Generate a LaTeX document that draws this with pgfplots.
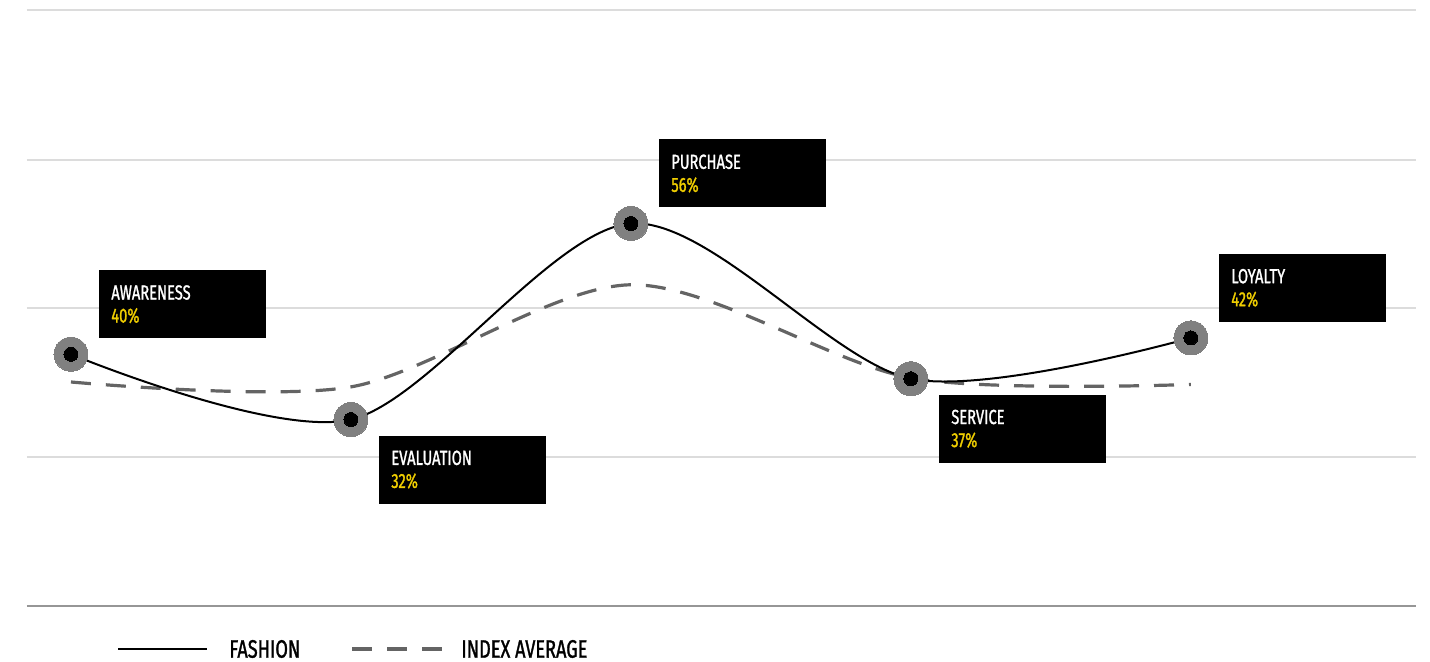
\documentclass[border=0pt]{standalone}
\usepackage{fontspec}
\setmainfont{Fira Sans}[FakeStretch=0.72, FakeBold=1.2]
\usepackage{pgfplots}
\usepackage{pgfplotstable}
\pgfplotsset{compat=1.18}

\definecolor{gridgray}{RGB}{220,220,220}
\definecolor{basegray}{RGB}{150,150,150}
\definecolor{ringgray}{RGB}{128,128,128}
\definecolor{dashgray}{RGB}{100,100,100}
\definecolor{labelyellow}{RGB}{240,206,0}

% stage, share of respondents, label placement (1 = above, -1 = below)
\pgfplotstableread{
x y name pos
0 40 AWARENESS 1
1 32 EVALUATION -1
2 56 PURCHASE 1
3 37 SERVICE -1
4 42 LOYALTY 1
}\fashion

\pgfplotstableread{
x y
0 36.6
1 36.0
2 48.5
3 37.1
4 36.3
}\indexavg

\begin{document}
\begin{tikzpicture}
\path[use as bounding box] (0,0) rectangle (715pt,330.5pt);
\begin{axis}[
  at={(13.5pt,27.5pt)}, anchor=south west,
  scale only axis, width=694.5pt, height=298pt,
  xmin=-0.157, xmax=4.804, ymin=9.18, ymax=82.13,
  xtick=\empty, ytick={27.42,45.65,63.77,82.13}, yticklabels={},
  extra y ticks={9.18}, extra y tick labels={},
  extra y tick style={grid style={color=basegray, line width=0.8pt}},
  major tick length=0pt,
  ymajorgrids, grid style={color=gridgray, line width=0.7pt},
  axis line style={draw=none},
  clip=false,
]
% index average
\addplot[dashgray, line width=1.6pt, dash pattern=on 10pt off 7.5pt, smooth, tension=0.5, mark=none] table[x=x,y=y] {\indexavg};
% rings behind the fashion line
\addplot[ringgray, only marks, mark=*, mark size=8.5pt, mark options={fill=ringgray, draw=ringgray, line width=0pt}] table[x=x,y=y] {\fashion};
% fashion
\addplot[black, line width=1pt, smooth, tension=0.5, mark=none] table[x=x,y=y] {\fashion};
\addplot[black, only marks, mark=*, mark size=3.5pt, mark options={fill=black, draw=black, line width=0pt}] table[x=x,y=y] {\fashion};
% stage labels
\addplot[draw=none, mark=none,
  point meta=explicit symbolic,
  visualization depends on={\thisrow{y} \as \lval},
  visualization depends on={\thisrow{pos} \as \lpos},
  nodes near coords={\textcolor{white}{\pgfplotspointmeta}\\\textcolor{labelyellow}{\pgfmathprintnumber[fixed,precision=0,assume math mode=true]{\lval}\%}},
  every node near coord/.style={anchor=west, xshift=14pt, yshift={\lpos*25pt},
    fill=black, minimum width=83.5pt, minimum height=34pt,
    text width=71.5pt, inner xsep=6pt, inner ysep=0pt, align=left,
    font=\fontsize{10.2}{11.5}\selectfont},
] table[x=x,y=y,meta=name] {\fashion};
\end{axis}
% legend
\draw[black, line width=1pt] (59pt,6pt) -- (103.5pt,6pt);
\node[anchor=west, inner sep=0pt, font=\fontsize{12.6}{14}\selectfont] at (114.5pt,6pt) {FASHION};
\draw[dashgray, line width=1.6pt, dash pattern=on 10pt off 7.5pt] (176pt,6pt) -- (221pt,6pt);
\node[anchor=west, inner sep=0pt, font=\fontsize{12.6}{14}\selectfont] at (230.5pt,6pt) {INDEX AVERAGE};
\end{tikzpicture}
\end{document}
